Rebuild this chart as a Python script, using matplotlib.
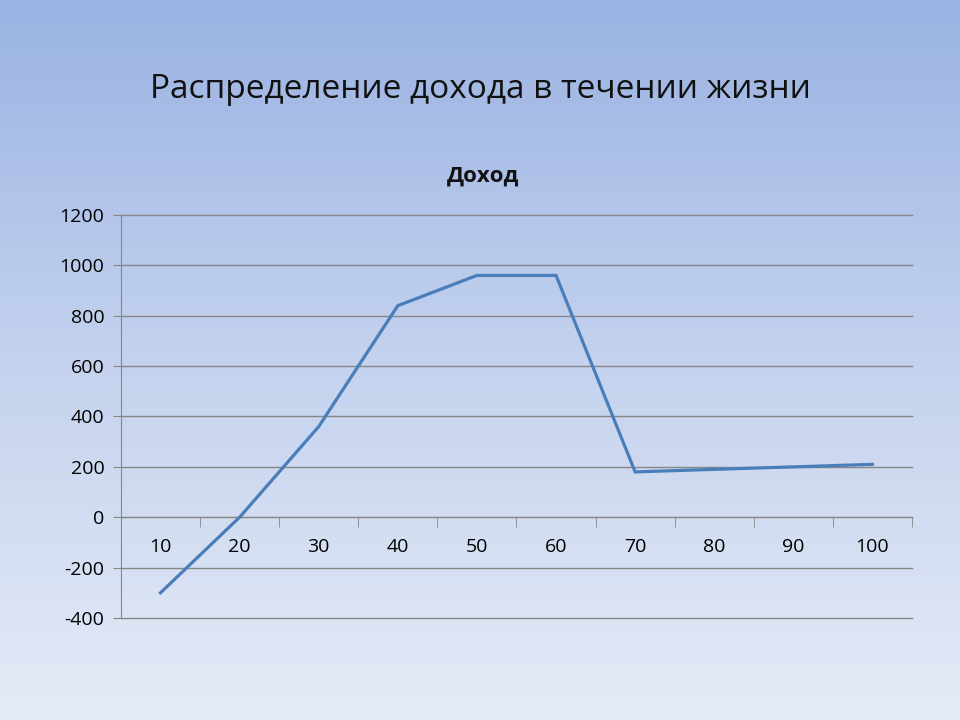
import numpy as np
import matplotlib
matplotlib.use("Agg")
import matplotlib.pyplot as plt
from matplotlib.colors import LinearSegmentedColormap

plt.rcParams['font.family'] = ['Open Sans', 'DejaVu Sans']

# data
ages = ["10", "20", "30", "40", "50", "60", "70", "80", "90", "100"]
income = [-300, 0, 360, 840, 960, 960, 180, 190, 200, 210]
y_ticks = [-400, -200, 0, 200, 400, 600, 800, 1000, 1200]

slide_title = "Распределение дохода в течении жизни"
chart_title = "Доход"

fig = plt.figure(figsize=(9.6, 7.2), dpi=100)

# slide background gradient
bg = fig.add_axes([0, 0, 1, 1], zorder=-10)
grad_cmap = LinearSegmentedColormap.from_list("bg", ["#9ab3e3", "#c4d2ee", "#e5ebf7"])
bg.imshow(np.linspace(0, 1, 256).reshape(-1, 1), aspect="auto", cmap=grad_cmap,
          extent=[0, 1, 0, 1])
bg.set_axis_off()

fig.text(0.5, 0.875, slide_title, ha="center", va="center", fontsize=24, color="#111111")
fig.text(0.503, 0.755, chart_title, ha="center", va="center", fontsize=16,
         fontweight="bold", color="#111111")

ax = fig.add_axes([0.126, 0.1417, 0.824, 0.5597])
ax.patch.set_alpha(0)
x = np.arange(len(ages))
ax.plot(x, income, color="#4a7ebb", lw=2.3, solid_joinstyle="miter", zorder=3)

ax.set_xlim(-0.5, len(ages) - 0.5)
ax.set_ylim(-400, 1200)
ax.set_yticks(y_ticks)
ax.set_yticklabels([str(v) for v in y_ticks], fontsize=14)
ax.yaxis.grid(True, color="#868686", lw=1)
for gl in ax.get_ygridlines():
    gl.set_clip_on(False)
ax.set_axisbelow(True)

# category axis sits on y=0, tick marks between categories
ax.spines["bottom"].set_position(("data", 0))
ax.spines["bottom"].set_color("#868686")
ax.spines["left"].set_color("#868686")
ax.spines["top"].set_visible(False)
ax.spines["right"].set_visible(False)
ax.set_xticks(x)
ax.set_xticklabels(ages, fontsize=14)
ax.tick_params(axis="x", which="major", length=0, pad=15)
ax.set_xticks(np.arange(-0.5, len(ages), 1.0), minor=True)
ax.tick_params(axis="x", which="minor", length=7, color="#868686", direction="out")
ax.tick_params(axis="y", length=6, color="#868686", pad=6)

fig.savefig("out.png", dpi=100)
